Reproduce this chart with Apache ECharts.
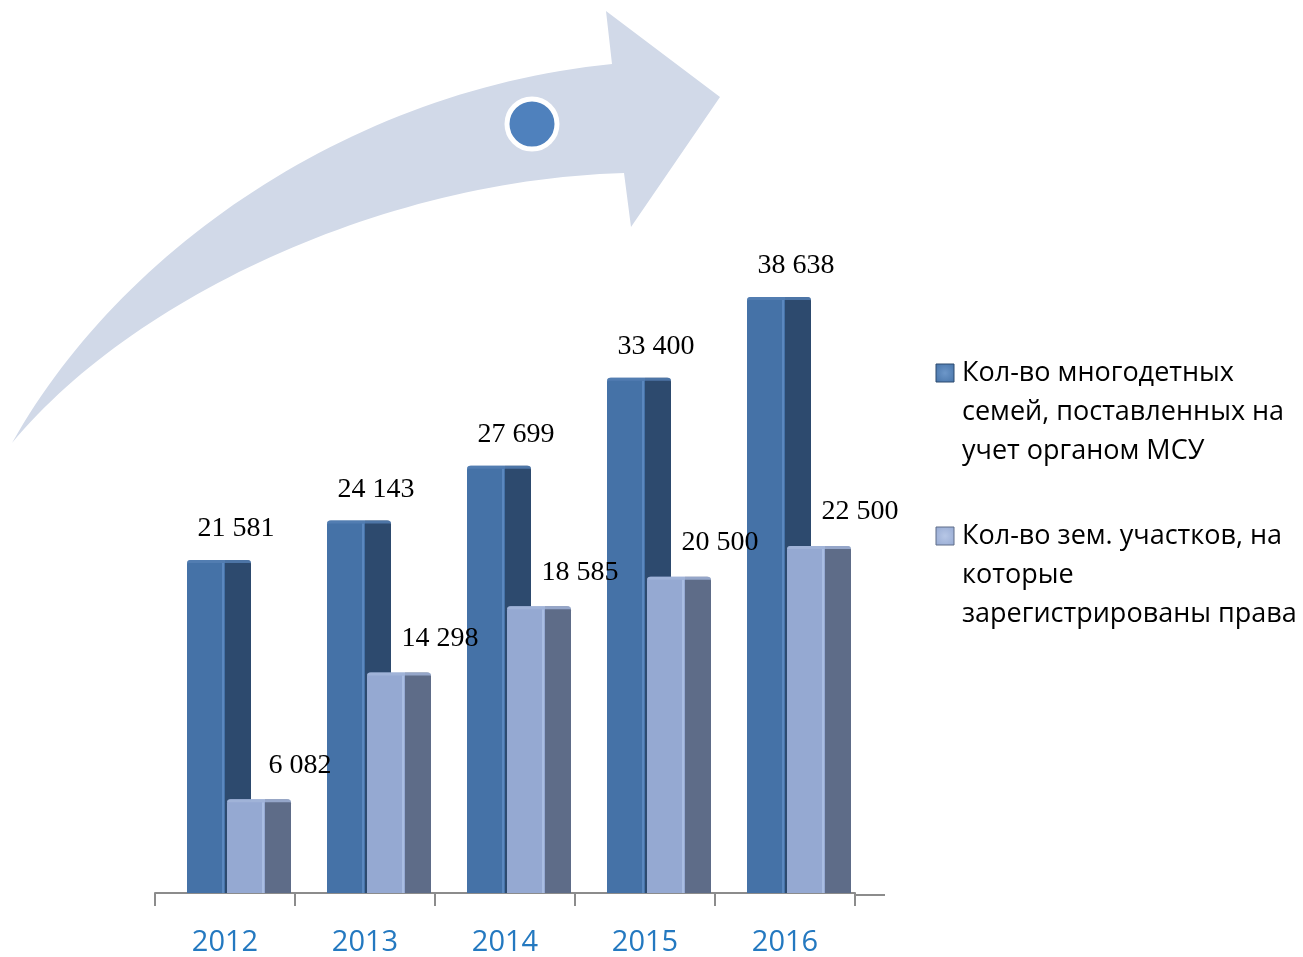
<!DOCTYPE html>
<html>
<head>
<meta charset="utf-8">
<script src="https://cdn.jsdelivr.net/npm/echarts@6/dist/echarts.min.js"></script>
<style>
html,body{margin:0;padding:0;background:#fff;}
#chart{width:1303px;height:957px;}
</style>
</head>
<body>
<div id="chart"></div>
<script>
const categories = ['2012', '2013', '2014', '2015', '2016'];
const families = [21581, 24143, 27699, 33400, 38638];
const plots = [6082, 14298, 18585, 20500, 22500];
const seriesNames = [
  'Кол-во многодетных семей, поставленных на учет органом МСУ',
  'Кол-во зем. участков, на которые зарегистрированы права'
];
const legendLines = [
  ['Кол-во многодетных', 'семей, поставленных на', 'учет органом МСУ'],
  ['Кол-во зем. участков, на', 'которые', 'зарегистрированы права']
];

function fmt(v) { return String(v).replace(/\B(?=(\d{3})+(?!\d))/g, ' '); }

const styles = [
  { fl: -38, fr: 0, sr: 26, front: '#4572a7', side: '#2d4a6e', hl: '#5b88bf', cap: '#5580b4', lx: 11, ly: -31 },
  { fl: 2, fr: 40, sr: 66, front: '#95a9d2', side: '#5e6c88', hl: '#a9bde2', cap: '#a3b5da', lx: 75, ly: -34 }
];

function makeRender(si) {
  const s = styles[si];
  return function (params, api) {
    const cat = api.value(0), v = api.value(1);
    const base = api.coord([cat, 0]);
    const top = api.coord([cat, v]);
    const u = api.size([1, 0])[0] / 140;
    const c = base[0];
    const x0 = c + s.fl * u, x1 = c + s.fr * u, x2 = c + s.sr * u;
    const h = base[1] - top[1];
    return {
      type: 'group',
      children: [
        { type: 'rect', shape: { x: x1, y: top[1], width: x2 - x1, height: h, r: [0, 4, 0, 0] }, style: { fill: s.side } },
        { type: 'rect', shape: { x: x0, y: top[1], width: x1 - x0, height: h, r: [4, 0, 0, 0] }, style: { fill: s.front } },
        { type: 'rect', shape: { x: x1 - 3 * u, y: top[1] + 3, width: 2 * u, height: h - 3 }, style: { fill: s.hl } },
        { type: 'rect', shape: { x: x0, y: top[1], width: x2 - x0, height: 3, r: [4, 4, 0, 0] }, style: { fill: s.cap, opacity: 0.8 } },
        { type: 'text', z2: 100, style: { x: c + s.lx * u, y: top[1] + s.ly, text: fmt(v), align: 'center', verticalAlign: 'middle',
          fill: '#000', fontFamily: 'Liberation Serif', fontSize: 28 } }
      ]
    };
  };
}

function bez(p0, c1, c2, p3, n) {
  const pts = [];
  for (let i = 0; i <= n; i++) {
    const t = i / n, a = (1 - t) ** 3, b = 3 * t * (1 - t) ** 2, cc = 3 * t * t * (1 - t), d = t ** 3;
    pts.push([a * p0[0] + b * c1[0] + cc * c2[0] + d * p3[0], a * p0[1] + b * c1[1] + cc * c2[1] + d * p3[1]]);
  }
  return pts;
}
const upper = bez([12, 443], [120, 250], [350, 90], [612, 64], 60);
const lower = bez([624, 173], [380, 180], [130, 300], [12, 443], 60);
const arrowPts = upper.concat([[606, 11], [720, 97], [631, 227]], lower);

const chart = echarts.init(document.getElementById('chart'));

const graphics = [
  { type: 'polygon', z: -10, shape: { points: arrowPts }, style: { fill: '#d1d9e8' } },
  { type: 'circle', z: -5, shape: { cx: 532, cy: 124, r: 25 }, style: { fill: '#4f81bd', stroke: '#fff', lineWidth: 5 } },
  { type: 'line', shape: { x1: 855, y1: 895, x2: 885, y2: 895 }, style: { stroke: '#8c8c8c', lineWidth: 2 } }
];
const legendColors = [['#4572a7', '#2d4a6e', '#6d97c9'], ['#95a9d2', '#5e6c88', '#b7c7e6']];
const legendTops = [373, 536];
legendLines.forEach((lines, i) => {
  const yc = legendTops[i];
  graphics.push({ type: 'rect', shape: { x: 936, y: yc - 9, width: 18, height: 18 },
    style: { fill: new echarts.graphic.RadialGradient(0.5, 0.5, 0.7, [{ offset: 0, color: legendColors[i][2] }, { offset: 1, color: legendColors[i][0] }]),
      stroke: legendColors[i][1], lineWidth: 1 } });
  lines.forEach((t, j) => {
    graphics.push({ type: 'text', style: { x: 962, y: yc + j * 39, text: t, verticalAlign: 'middle',
      fill: '#000', fontFamily: 'Open Sans', fontSize: 27 } });
  });
});

chart.setOption({
  animation: false,
  grid: { left: 155, right: 448, top: 276, bottom: 62 },
  xAxis: {
    type: 'category', data: categories, boundaryGap: true,
    axisLine: { show: true, lineStyle: { color: '#8c8c8c', width: 2 } },
    axisTick: { show: true, alignWithLabel: false, length: 13, lineStyle: { color: '#8c8c8c', width: 2 } },
    axisLabel: { color: '#2479c0', fontFamily: 'Open Sans', fontSize: 29, margin: 35 }
  },
  yAxis: { type: 'value', min: 0, max: 40000, show: false, splitLine: { show: false } },
  series: [
    { type: 'custom', name: seriesNames[0], renderItem: makeRender(0), encode: { x: 0, y: 1 },
      data: families.map((v, i) => [i, v]), clip: false },
    { type: 'custom', name: seriesNames[1], renderItem: makeRender(1), encode: { x: 0, y: 1 },
      data: plots.map((v, i) => [i, v]), clip: false }
  ],
  graphic: graphics
});
</script>
</body>
</html>
